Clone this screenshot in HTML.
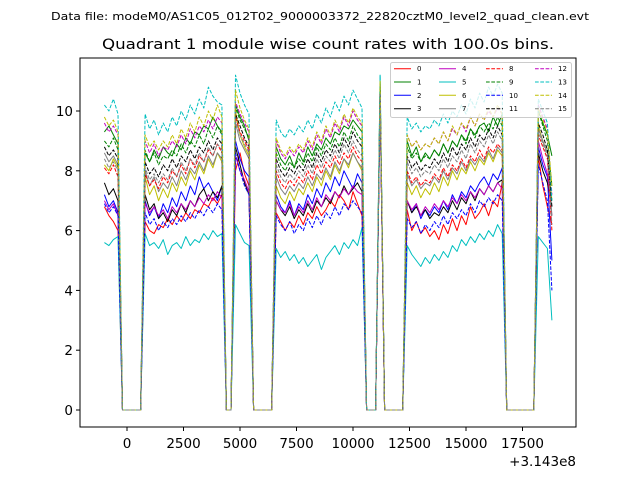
<!DOCTYPE html>
<html><head><meta charset="utf-8"><style>
body{margin:0;background:#fff;}
svg{display:block;font-family:"DejaVu Sans","Liberation Sans",sans-serif;}
</style></head><body>
<svg id="chart" width="640" height="480" viewBox="0 0 640 480">
<rect width="640" height="480" fill="#fff"/>
<text x="51" y="20" font-size="11" textLength="538" lengthAdjust="spacingAndGlyphs">Data file: modeM0/AS1C05_012T02_9000003372_22820cztM0_level2_quad_clean.evt</text>
<text x="102" y="49" font-size="14" textLength="452" lengthAdjust="spacingAndGlyphs">Quadrant 1 module wise count rates with 100.0s bins.</text>
<g id="plot"></g>
<g id="axes"></g>
<g id="legend"></g>
</svg>
<script>
const timesStart = -1000, timesStep = 200;
const seriesNames = ["0","1","2","3","4","5","6","7","8","9","10","11","12","13","14","15"];
const xTicks = [0,2500,5000,7500,10000,12500,15000,17500];
const yTicks = [0,2,4,6,8,10];
const s0=[6.8,6.5,6.3,6.0,0,0,0,0,0,6.3,6.0,5.9,6.2,6.1,6.4,6.2,6.5,6.3,6.6,6.4,6.7,6.6,6.9,6.8,7.1,6.9,7.2,0,0,8.0,8.6,7.9,7.5,0,0,0,0,0,6.6,6.3,6.0,6.3,6.1,6.5,6.2,6.6,6.4,6.8,6.5,6.7,7.0,6.8,7.2,7.0,6.7,7.3,6.9,6.5,0,0,0,10.5,0,0,0,0,0,6.7,6.0,6.3,5.9,6.1,5.8,6.0,5.7,6.2,5.9,6.4,6.0,6.5,6.2,6.8,6.4,6.6,6.9,6.5,7.0,6.8,7.6,0,0,0,0,0,0,0,8.5,7.5,6.8,6.2];
const s1=[9.3,9.5,9.2,8.9,0,0,0,0,0,8.6,8.3,8.7,8.4,8.8,8.6,8.5,8.9,8.7,9.1,8.9,9.3,9.2,9.5,9.4,9.8,9.5,9.3,0,0,10.2,9.8,9.5,9.0,0,0,0,0,0,8.8,8.4,8.2,8.5,8.1,8.6,8.3,8.8,8.5,8.9,8.7,9.1,8.9,9.3,9.2,9.5,9.4,9.7,9.5,9.3,0,0,0,10.8,0,0,0,0,0,9.0,8.5,8.8,8.3,8.6,8.4,8.7,8.5,8.9,8.6,9.0,8.8,9.2,9.0,9.4,9.2,9.5,9.6,9.3,9.8,9.5,9.9,0,0,0,0,0,0,0,10.0,9.6,9.2,8.5];
const s2=[7.2,6.8,7.0,6.6,0,0,0,0,0,7.0,6.5,6.8,6.4,6.9,6.6,7.1,6.8,7.3,7.0,7.5,7.2,7.8,7.4,7.6,7.3,7.0,7.5,0,0,9.0,8.4,8.0,7.8,0,0,0,0,0,7.2,6.8,6.6,7.0,6.5,6.9,6.7,7.2,6.9,7.4,7.1,7.6,7.3,7.8,7.5,8.0,7.7,7.4,7.9,7.6,0,0,0,10.6,0,0,0,0,0,7.0,6.6,6.9,6.4,6.7,6.5,6.8,6.6,7.0,6.7,7.2,6.9,7.3,7.1,7.5,7.3,7.6,7.8,7.5,7.9,7.7,8.1,0,0,0,0,0,0,0,8.8,8.2,7.8,5.0];
const s3=[7.6,7.2,7.4,7.0,0,0,0,0,0,7.2,6.7,6.9,6.4,6.6,6.3,6.7,6.5,6.9,6.6,7.0,6.8,7.2,7.4,7.0,7.3,7.1,7.5,0,0,8.8,8.2,7.6,7.2,0,0,0,0,0,7.0,6.7,6.5,6.8,6.4,6.7,6.5,6.9,6.6,7.0,6.8,7.1,6.9,7.3,7.1,7.5,7.2,7.4,7.6,7.3,0,0,0,10.7,0,0,0,0,0,7.0,6.6,6.8,6.5,6.7,6.4,6.6,6.5,6.8,6.6,7.0,6.7,7.1,6.9,7.3,7.0,7.4,7.2,7.5,7.3,7.6,7.7,0,0,0,0,0,0,0,8.6,8.0,7.6,6.8];
const s4=[7.0,6.7,6.9,6.5,0,0,0,0,0,6.9,6.6,6.8,6.5,6.7,6.4,6.8,6.6,6.9,6.7,7.0,6.8,7.1,6.9,7.2,7.0,7.3,7.1,0,0,8.5,8.0,7.7,7.3,0,0,0,0,0,7.0,6.7,6.6,6.9,6.5,6.8,6.6,7.0,6.7,7.1,6.8,7.2,7.0,7.3,7.1,7.4,7.2,7.5,7.3,7.2,0,0,0,10.5,0,0,0,0,0,7.0,6.7,6.9,6.5,6.8,6.6,6.9,6.7,7.0,6.8,7.1,6.9,7.2,7.0,7.3,7.1,7.4,7.2,7.5,7.3,7.6,7.4,0,0,0,0,0,0,0,9.0,8.4,7.9,6.5];
const s5=[5.6,5.5,5.7,5.8,0,0,0,0,0,5.9,5.5,5.6,5.4,5.7,5.2,5.5,5.6,5.4,5.8,5.5,5.7,5.6,5.9,5.7,6.0,5.8,5.9,0,0,6.2,5.9,5.6,5.5,0,0,0,0,0,5.4,5.1,5.3,5.0,5.2,4.9,5.1,4.8,5.0,5.2,4.7,5.1,5.3,5.5,5.2,5.6,5.4,5.7,5.5,6.1,0,0,0,11.2,0,0,0,0,0,5.5,5.2,5.0,4.8,5.1,4.9,5.2,5.0,5.3,5.1,5.5,5.3,5.7,5.5,5.8,5.6,5.9,5.7,6.0,5.8,6.2,5.9,0,0,0,0,0,0,0,5.8,5.6,5.4,3.0];
const s6=[8.2,8.0,8.4,8.1,0,0,0,0,0,7.8,7.2,7.5,7.0,7.4,7.1,7.6,7.3,7.8,7.5,8.0,7.7,8.2,7.9,8.4,8.1,8.6,8.3,0,0,10.0,9.2,8.8,8.5,0,0,0,0,0,7.5,7.1,6.9,7.3,7.0,7.4,7.2,7.6,7.3,7.8,7.5,8.0,7.7,8.2,7.9,8.4,8.1,8.6,8.3,8.0,0,0,0,10.8,0,0,0,0,0,7.6,7.2,7.5,7.1,7.4,7.2,7.6,7.3,7.8,7.5,8.0,7.7,8.1,7.9,8.3,8.0,8.4,8.2,8.6,8.3,8.7,8.5,0,0,0,0,0,0,0,9.5,9.0,8.6,7.0];
const s7=[8.6,8.3,8.5,8.2,0,0,0,0,0,8.0,7.5,7.8,7.3,7.6,7.4,7.8,7.5,8.0,7.7,8.1,7.9,8.3,8.0,8.5,8.2,8.6,8.4,0,0,9.6,9.0,8.7,8.4,0,0,0,0,0,7.8,7.4,7.2,7.5,7.3,7.6,7.4,7.8,7.5,7.9,7.7,8.1,7.8,8.3,8.0,8.4,8.2,8.6,8.3,8.1,0,0,0,10.6,0,0,0,0,0,7.9,7.5,7.7,7.4,7.6,7.5,7.8,7.6,8.0,7.7,8.1,7.9,8.3,8.0,8.4,8.2,8.5,8.3,8.7,8.4,8.8,8.6,0,0,0,0,0,0,0,9.4,9.0,8.6,6.5];
const s8=[8.1,7.9,8.2,7.8,0,0,0,0,0,7.9,7.5,7.7,7.4,7.8,7.6,8.0,7.8,8.2,7.9,8.4,8.1,8.5,8.3,8.7,8.5,8.9,8.6,0,0,9.8,9.3,9.0,8.7,0,0,0,0,0,8.0,7.6,7.4,7.7,7.5,7.8,7.6,8.0,7.7,8.2,7.9,8.3,8.1,8.5,8.2,8.6,8.4,8.8,8.5,8.3,0,0,0,10.5,0,0,0,0,0,8.0,7.6,7.8,7.5,7.7,7.6,7.9,7.7,8.1,7.8,8.2,8.0,8.4,8.1,8.5,8.3,8.7,8.4,8.8,8.6,8.9,8.7,0,0,0,0,0,0,0,9.2,8.8,8.4,6.0];
const s9=[9.0,8.8,9.1,8.7,0,0,0,0,0,8.7,8.3,8.6,8.2,8.5,8.4,8.7,8.5,8.9,8.6,9.0,8.8,9.2,8.9,9.4,9.1,9.5,9.2,0,0,10.1,9.7,9.4,9.1,0,0,0,0,0,8.6,8.2,8.0,8.3,8.1,8.4,8.2,8.6,8.3,8.8,8.5,8.9,8.7,9.1,8.8,9.3,9.0,9.5,9.2,9.0,0,0,0,10.9,0,0,0,0,0,8.8,8.4,8.6,8.3,8.5,8.4,8.7,8.5,8.9,8.6,9.0,8.8,9.2,8.9,9.4,9.1,9.5,9.3,9.6,9.4,9.8,9.5,0,0,0,0,0,0,0,10.0,9.5,9.0,7.5];
const s10=[6.9,6.6,6.8,6.5,0,0,0,0,0,6.6,6.2,6.4,6.0,6.3,6.1,6.4,6.2,6.5,6.3,6.6,6.4,6.7,6.5,6.8,6.6,6.9,6.7,0,0,8.6,8.0,7.5,7.2,0,0,0,0,0,6.5,6.2,6.0,6.3,5.9,6.2,6.0,6.4,6.1,6.5,6.2,6.6,6.4,6.8,6.5,6.9,6.7,7.0,6.8,6.6,0,0,0,10.4,0,0,0,0,0,6.4,6.1,6.3,5.9,6.2,6.0,6.3,6.1,6.5,6.2,6.6,6.4,6.7,6.5,6.9,6.6,7.0,6.8,7.1,6.9,7.2,7.0,0,0,0,0,0,0,0,8.2,7.6,7.0,4.0];
const s11=[8.8,8.5,8.7,8.4,0,0,0,0,0,8.3,7.9,8.1,7.8,8.2,8.0,8.4,8.1,8.5,8.3,8.7,8.4,8.8,8.6,9.0,8.7,9.1,8.9,0,0,9.9,9.5,9.1,8.8,0,0,0,0,0,8.4,8.0,7.8,8.1,7.9,8.2,8.0,8.4,8.1,8.6,8.3,8.7,8.5,8.9,8.6,9.1,8.8,9.3,9.0,8.8,0,0,0,10.7,0,0,0,0,0,8.5,8.1,8.3,8.0,8.2,8.1,8.4,8.2,8.6,8.3,8.8,8.5,8.9,8.7,9.1,8.8,9.2,9.0,9.4,9.1,9.5,9.2,0,0,0,0,0,0,0,9.6,9.2,8.7,6.8];
const s12=[9.6,9.3,9.5,9.2,0,0,0,0,0,9.0,8.6,8.9,8.5,8.8,8.7,9.0,8.8,9.2,8.9,9.4,9.1,9.5,9.3,9.7,9.4,9.8,9.6,0,0,10.3,9.9,9.6,9.3,0,0,0,0,0,9.0,8.6,8.4,8.7,8.5,8.8,8.6,9.0,8.7,9.2,8.9,9.4,9.1,9.6,9.3,9.8,9.5,10.0,9.7,9.5,0,0,0,10.9,0,0,0,0,0,9.2,8.8,9.0,8.7,8.9,8.8,9.1,8.9,9.3,9.0,9.4,9.2,9.6,9.3,9.8,9.5,9.9,9.7,10.0,9.8,10.1,9.9,0,0,0,0,0,0,0,10.2,9.8,9.4,7.2];
const s13=[10.2,10.0,10.4,9.9,0,0,0,0,0,9.9,9.4,9.7,9.2,9.6,9.3,9.8,9.5,10.0,9.7,10.2,9.9,10.4,10.1,10.8,10.5,10.3,10.2,0,0,11.2,10.6,10.2,9.9,0,0,0,0,0,9.7,9.3,9.1,9.4,9.2,9.5,9.3,9.7,9.4,9.9,9.6,10.1,9.8,10.3,10.0,10.5,10.2,10.7,10.4,10.1,0,0,0,11.2,0,0,0,0,0,9.8,9.4,9.6,9.3,9.5,9.4,9.7,9.5,9.9,9.6,10.0,9.8,10.2,9.9,10.4,10.1,10.6,10.3,10.8,10.5,10.9,10.6,0,0,0,0,0,0,0,10.4,10.0,9.6,7.0];
const s14=[9.8,9.5,9.7,9.3,0,0,0,0,0,9.2,8.8,9.0,8.7,9.0,8.8,9.2,8.9,9.4,9.1,9.6,9.3,9.8,9.5,10.0,9.7,10.2,9.8,0,0,10.7,10.1,9.7,9.4,0,0,0,0,0,9.1,8.7,8.5,8.8,8.6,8.9,8.7,9.1,8.8,9.3,9.0,9.5,9.2,9.7,9.4,9.9,9.6,10.1,9.8,9.6,0,0,0,11.0,0,0,0,0,0,9.2,8.8,9.0,8.7,8.9,8.8,9.1,8.9,9.3,9.0,9.5,9.2,9.6,9.4,9.8,9.5,9.9,9.7,10.1,9.8,10.2,9.9,0,0,0,0,0,0,0,10.1,9.7,9.3,7.5];
const s15=[8.4,8.1,8.3,8.0,0,0,0,0,0,8.1,7.7,7.9,7.6,7.9,7.7,8.1,7.8,8.3,8.0,8.4,8.2,8.6,8.3,8.8,8.5,8.9,8.7,0,0,9.7,9.2,8.9,8.6,0,0,0,0,0,8.2,7.8,7.6,7.9,7.7,8.0,7.8,8.2,7.9,8.4,8.1,8.5,8.3,8.7,8.4,8.9,8.6,9.0,8.7,8.5,0,0,0,10.6,0,0,0,0,0,8.3,7.9,8.1,7.8,8.0,7.9,8.2,8.0,8.4,8.1,8.5,8.3,8.7,8.4,8.9,8.6,9.0,8.8,9.2,8.9,9.3,9.0,0,0,0,0,0,0,0,9.3,8.9,8.5,6.2];
const seriesValues=[s0,s1,s2,s3,s4,s5,s6,s7,s8,s9,s10,s11,s12,s13,s14,s15];
const colors=["#ff0000","#008000","#0000ff","#000000","#bf00bf","#00bfbf","#bfbf00","#808080"];

const NS="http://www.w3.org/2000/svg";
const X0=80,X1=576,Y0=58,Y1=427;
function xs(t){return 127+t*56.5/2500;}
function ys(v){return 410-v*29.9;}
function mk(tag,attrs,parent){const e=document.createElementNS(NS,tag);for(const k in attrs)e.setAttribute(k,attrs[k]);parent.appendChild(e);return e;}
const plot=document.getElementById('plot');
seriesValues.forEach((vals,si)=>{
  const pts=vals.map((v,i)=>xs(timesStart+i*timesStep).toFixed(1)+','+ys(v).toFixed(1)).join(' ');
  const pl=mk('polyline',{points:pts,fill:'none',stroke:colors[si%8],'stroke-width':1,'stroke-linejoin':'round'},plot);
  if(si>=8)pl.setAttribute('stroke-dasharray','3.7,1.6');
  
  
});
const axes=document.getElementById('axes');
const frame=mk('rect',{x:X0,y:Y0,width:X1-X0,height:Y1-Y0,fill:'none',stroke:'#000','stroke-width':1},axes);


xTicks.forEach(t=>{
  const x=xs(t);
  mk('line',{x1:x,x2:x,y1:Y1,y2:Y1+4,stroke:'#000'},axes);
  const tx=mk('text',{x:x,y:448,'font-size':13.5,'text-anchor':'middle'},axes);
  tx.textContent=t;
  
  
});
yTicks.forEach(v=>{
  const y=ys(v);
  mk('line',{x1:X0-4,x2:X0,y1:y,y2:y,stroke:'#000'},axes);
  const tx=mk('text',{x:X0-7,y:y+5,'font-size':13.5,'text-anchor':'end'},axes);
  tx.textContent=v;
  
  
});
const off=mk('text',{x:576,y:466,'font-size':13.5,'text-anchor':'end'},axes);
off.textContent='+3.143e8';


const lg=document.getElementById('legend');
const lbox=mk('rect',{x:390.5,y:62.5,width:181,height:55,rx:2,fill:'#fff','fill-opacity':0.8,stroke:'#ccc'},lg);


const colX=[394,439,486,535], rowY=[68.7,82,95.3,108.7];
seriesNames.forEach((n,si)=>{
  const c=Math.floor(si/4), r=si%4;
  const g=mk('g',{},lg);
  
  
  const l=mk('line',{x1:colX[c],x2:colX[c]+17,y1:rowY[r],y2:rowY[r],stroke:colors[si%8],'stroke-width':1},g);
  if(si>=8)l.setAttribute('stroke-dasharray','3.7,1.6');
  const t=mk('text',{x:colX[c]+23,y:rowY[r]+2.5,'font-size':7},g);
  t.textContent=n;
});
</script>
</body></html>
